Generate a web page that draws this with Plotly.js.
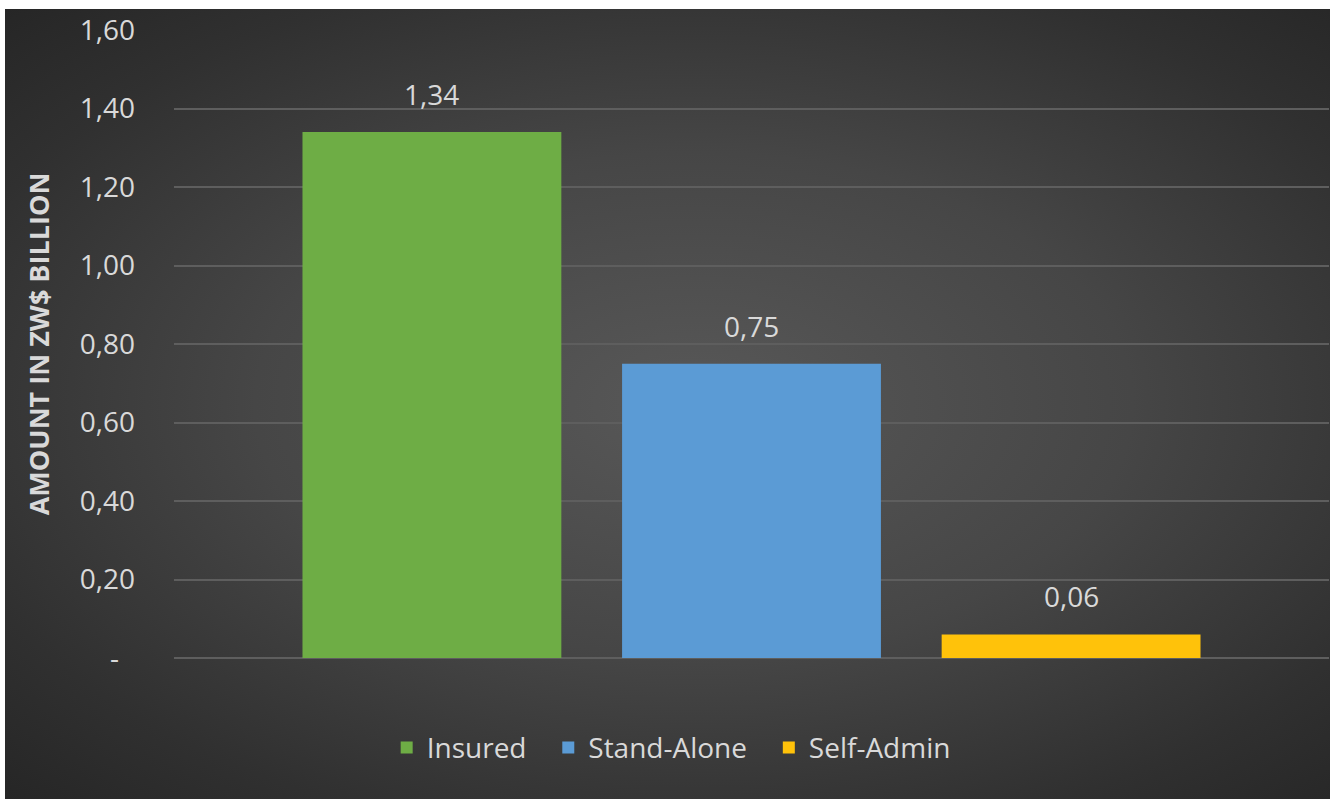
<!DOCTYPE html>
<html>
<head>
<meta charset="utf-8">
<script src="https://cdn.plot.ly/plotly-3.0.1.min.js"></script>
<style>
  html, body { margin: 0; padding: 0; background: #ffffff; width: 1337px; height: 799px; overflow: hidden; }
  #bg { position: absolute; left: 5px; top: 9px; width: 1325px; height: 790px;
        background: radial-gradient(ellipse farthest-corner at 52% 50%, #585858 0%, #464646 45%, #303030 80%, #262626 100%); }
  #chart { position: absolute; left: 0; top: 0; width: 1337px; height: 799px; }
</style>
</head>
<body>
<div id="bg"></div>
<div id="chart"></div>
<script>
// Data
const categories = ["Insured", "Stand-Alone", "Self-Admin"];
const values = [1.34, 0.75, 0.06];
const valueLabels = ["1,34", "0,75", "0,06"];
const colors = ["#6EAD45", "#5B9BD5", "#FFC20A"];
const tickVals = [0, 0.2, 0.4, 0.6, 0.8, 1.0, 1.2, 1.4, 1.6];
const tickText = ["-\u2007", "0,20", "0,40", "0,60", "0,80", "1,00", "1,20", "1,40", "1,60"];
const yTitle = "AMOUNT IN ZW$ BILLION";

const fontFamily = "'Open Sans', 'Noto Sans', sans-serif";
const textColor = "#d9d9d9";

const traces = categories.map((c, i) => ({
  type: "bar",
  name: c + (i < categories.length - 1 ? "\u2002\u200A" : ""),
  x: [i],
  y: [values[i]],
  width: 0.81,
  marker: { color: colors[i], line: { width: 0 } },
  hoverinfo: "skip",
  showlegend: true
}));

const annotations = categories.map((c, i) => ({
  x: i, y: values[i], xref: "x", yref: "y",
  text: valueLabels[i], showarrow: false,
  yanchor: "bottom", yshift: 17,
  font: { family: fontFamily, size: 28, color: textColor }
}));

const layout = {
  width: 1337, height: 799,
  margin: { l: 174, r: 8, t: 30, b: 141, pad: 0 },
  paper_bgcolor: "rgba(0,0,0,0)",
  plot_bgcolor: "rgba(0,0,0,0)",
  font: { family: fontFamily, size: 28, color: textColor },
  barmode: "group",
  xaxis: {
    range: [-0.807, 2.807],
    showticklabels: false, showgrid: false, zeroline: false,
    showline: false, ticks: "", fixedrange: true
  },
  yaxis: {
    range: [0, 1.6],
    tickvals: tickVals, ticktext: tickText,
    tickfont: { family: fontFamily, size: 28, color: textColor },
    ticklabelstandoff: 38,
    showgrid: true, gridcolor: "#5e5e5e", gridwidth: 2,
    zeroline: true, zerolinecolor: "#5e5e5e", zerolinewidth: 2,
    showline: false, ticks: "",
    automargin: false,
    title: {
      text: yTitle,
      standoff: 22,
      font: { family: fontFamily, size: 27, color: textColor, weight: "bold" }
    }
  },
  legend: {
    orientation: "h",
    xref: "container", yref: "container",
    x: 0.502, xanchor: "center",
    y: 0.064, yanchor: "middle",
    font: { family: fontFamily, size: 28, color: textColor },
    bgcolor: "rgba(0,0,0,0)",
    itemclick: false, itemdoubleclick: false,
    traceorder: "normal"
  },
  annotations: annotations,
  showlegend: true
};

Plotly.newPlot("chart", traces, layout, { displayModeBar: false, staticPlot: true });
</script>
</body>
</html>
